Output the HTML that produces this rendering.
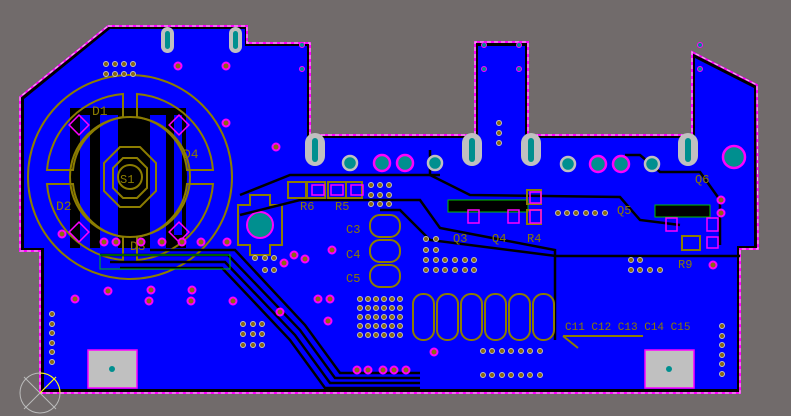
<!DOCTYPE html>
<html><head><meta charset="utf-8"><style>
html,body{margin:0;padding:0;background:#716b6b;}
svg{display:block;}
text{font-family:"Liberation Mono",monospace;fill:#8c7d00;}
</style></head><body>
<svg width="791" height="416" viewBox="0 0 791 416" xmlns="http://www.w3.org/2000/svg">
<rect width="791" height="416" fill="#716b6b"/>
<!-- board -->
<path d="M108,26 L247,26 L247,43 L310,43 L310,135 L475,135 L475,42 L528,42 L528,135 L692,135 L692,52 L757,85 L758,249 L740,249 L740,393 L40,393 L40,251 L20,251 L20,97 Z" fill="#000" stroke="#ff00ff" stroke-width="2"/>
<path d="M108,26 L247,26 L247,43 L310,43 L310,135 L475,135 L475,42 L528,42 L528,135 L692,135 L692,52 L757,85 L758,249 L740,249 L740,393 L40,393 L40,251 L20,251 L20,97 Z" fill="none" stroke="#ddd" stroke-width="1" stroke-dasharray="4,3"/>
<path d="M110,29 L245,29 L245,46 L307,46 L307,138 L478,138 L478,46 L525,46 L525,138 L695,138 L695,58 L754,88 L754,246 L737,246 L737,389 L44,389 L44,248 L24,248 L24,99 Z" fill="#0000ff"/>
<!-- black area at left component -->
<rect x="70" y="108" width="116" height="140" fill="#000"/>
<circle cx="130" cy="177" r="57" fill="#000"/>
<rect x="100" y="115" width="18" height="135" fill="#0000ff"/>
<rect x="150" y="115" width="16" height="135" fill="#0000ff"/>
<rect x="80" y="115" width="10" height="135" fill="#0000ff"/>
<rect x="174" y="115" width="8" height="120" fill="#0000ff"/>
<!-- circles olive -->
<g fill="none" stroke="#8c7d00" stroke-width="2">
<circle cx="130" cy="177" r="102"/>
<circle cx="130" cy="177" r="60"/>
<path d="M47,170 A83,83 0 0 1 123,94 L123,117 A60,60 0 0 0 73,170 Z"/>
<path d="M137,94 A83,83 0 0 1 213,170 L187,170 A60,60 0 0 0 137,117 Z"/>
<path d="M47,184 A83,83 0 0 0 123,260 L123,237 A60,60 0 0 1 73,184 Z"/>
<path d="M137,260 A83,83 0 0 0 213,184 L187,184 A60,60 0 0 1 137,237 Z"/>
<polygon points="120,147 140,147 156,163 156,191 140,207 120,207 104,191 104,163"/>
<polygon points="123,158 137,158 147,168 147,188 137,198 123,198 113,188 113,168"/>
<circle cx="130" cy="177" r="12"/>
<path d="M238,205 L250,205 L250,195 L270,195 L270,205 L282,205 L282,245 L270,245 L270,255 L250,255 L250,245 L238,245 Z" transform="translate(0,-0)"/>
</g>
<g fill="none" stroke="#ff00ff" stroke-width="1.5">
<rect x="72" y="118" width="14" height="14" transform="rotate(45 79 125)"/>
<rect x="172" y="118" width="14" height="14" transform="rotate(45 179 125)"/>
<rect x="72" y="225" width="14" height="14" transform="rotate(45 79 232)"/>
<rect x="172" y="225" width="14" height="14" transform="rotate(45 179 232)"/>
</g>
<text x="92" y="115" font-size="13">D1</text>
<text x="183" y="158" font-size="13">D4</text>
<text x="56" y="210" font-size="13">D2</text>
<text x="130" y="250" font-size="13">D3</text>
<text x="120" y="183" font-size="12">S1</text>
<!-- mid component -->
<circle cx="260" cy="225" r="13" fill="#008f8f" stroke="#ff00ff" stroke-width="2"/>
<!-- traces diagonal bundle -->
<g fill="none" stroke="#000" stroke-width="2.5">
<path d="M100,255 L228,255 L300,330 L335,378 L420,378"/>
<path d="M110,262 L225,262 L295,335 L330,383 L420,383"/>
<path d="M120,268 L222,268 L290,340 L325,388 L420,388"/>
<path d="M150,250 L235,250 L305,325 L340,373 L420,373"/>
<path d="M240,215 L300,200 L420,200 L440,228 L555,250 L555,340"/>
<path d="M430,150 L430,175 L470,195 L620,197 L640,220 L680,225"/>
<path d="M625,155 L640,155 L660,172 L700,172 L720,200 L720,245"/>
<path d="M380,210 L400,210 L430,240 L556,256 L740,256"/>
<path d="M240,195 L290,175 L440,175"/>
</g>
<!-- green hatched areas -->
<g fill="#000" stroke="#00c000" stroke-width="1">
<rect x="448" y="200" width="80" height="12"/>
<rect x="655" y="205" width="55" height="12"/>
<rect x="100" y="255" width="130" height="14" fill="none"/>
</g>
<!-- slotted pads -->
<g>
<rect x="161" y="27" width="13" height="26" rx="6.5" fill="#c0c0c0"/><rect x="165" y="31" width="5" height="18" rx="2.5" fill="#008f8f"/>
<rect x="229" y="27" width="13" height="26" rx="6.5" fill="#c0c0c0"/><rect x="233" y="31" width="5" height="18" rx="2.5" fill="#008f8f"/>
<rect x="305" y="133" width="20" height="33" rx="10" fill="#c0c0c0"/><rect x="312" y="138" width="6" height="24" rx="3" fill="#008f8f"/>
<rect x="462" y="133" width="20" height="33" rx="10" fill="#c0c0c0"/><rect x="469" y="138" width="6" height="24" rx="3" fill="#008f8f"/>
<rect x="521" y="133" width="20" height="33" rx="10" fill="#c0c0c0"/><rect x="528" y="138" width="6" height="24" rx="3" fill="#008f8f"/>
<rect x="678" y="133" width="20" height="33" rx="10" fill="#c0c0c0"/><rect x="685" y="138" width="6" height="24" rx="3" fill="#008f8f"/>
</g>
<g stroke-width="2.5">
<circle cx="350" cy="163" r="7" fill="#008f8f" stroke="#c0c0c0"/>
<circle cx="382" cy="163" r="8" fill="#008f8f" stroke="#ff00ff"/>
<circle cx="405" cy="163" r="8" fill="#008f8f" stroke="#ff00ff"/>
<circle cx="435" cy="163" r="7" fill="#008f8f" stroke="#c0c0c0"/>
<circle cx="568" cy="164" r="7" fill="#008f8f" stroke="#c0c0c0"/>
<circle cx="598" cy="164" r="8" fill="#008f8f" stroke="#ff00ff"/>
<circle cx="621" cy="164" r="8" fill="#008f8f" stroke="#ff00ff"/>
<circle cx="652" cy="164" r="7" fill="#008f8f" stroke="#c0c0c0"/>
<circle cx="734" cy="157" r="11" fill="#008f8f" stroke="#ff00ff"/>
</g>
<!-- mounting pads -->
<rect x="88" y="350" width="49" height="38" fill="#c0c0c0" stroke="#ff00ff" stroke-width="1.5"/><circle cx="112" cy="369" r="3" fill="#008f8f"/>
<rect x="645" y="350" width="49" height="38" fill="#c0c0c0" stroke="#ff00ff" stroke-width="1.5"/><circle cx="669" cy="369" r="3" fill="#008f8f"/>
<!-- caps row -->
<g fill="none" stroke="#8c7d00" stroke-width="2">
<rect x="413" y="294" width="21" height="46" rx="10"/><rect x="437" y="294" width="21" height="46" rx="10"/>
<rect x="461" y="294" width="21" height="46" rx="10"/><rect x="485" y="294" width="21" height="46" rx="10"/>
<rect x="509" y="294" width="21" height="46" rx="10"/><rect x="533" y="294" width="21" height="46" rx="10"/>
<rect x="370" y="215" width="30" height="22" rx="10"/><rect x="370" y="240" width="30" height="22" rx="10"/><rect x="370" y="265" width="30" height="22" rx="10"/>
<path d="M563,336 L643,336 M563,336 L578,348"/>
<rect x="288" y="182" width="18" height="16"/><rect x="307" y="182" width="18" height="16"/><rect x="328" y="182" width="18" height="16"/><rect x="346" y="182" width="16" height="16"/>
<rect x="527" y="190" width="14" height="14"/><rect x="527" y="210" width="14" height="14"/>
<rect x="682" y="236" width="18" height="14"/>
</g>
<g font-size="12">
<text x="300" y="210">R6</text><text x="335" y="210">R5</text>
<text x="346" y="233">C3</text><text x="346" y="258">C4</text><text x="346" y="282">C5</text>
<text x="453" y="242">Q3</text><text x="492" y="242">Q4</text><text x="527" y="242">R4</text>
<text x="617" y="214">Q5</text><text x="695" y="183">Q6</text><text x="678" y="268">R9</text>
<text x="565" y="330" font-size="11">C11 C12 C13 C14 C15</text>
</g>
<!-- magenta pads for transistors -->
<g fill="none" stroke="#ff00ff" stroke-width="1.5">
<rect x="468" y="210" width="11" height="13"/><rect x="508" y="210" width="11" height="13"/><rect x="530" y="210" width="11" height="13"/><rect x="530" y="192" width="11" height="11"/>
<rect x="666" y="218" width="11" height="13"/><rect x="707" y="218" width="11" height="13"/><rect x="707" y="237" width="11" height="11"/>
<rect x="312" y="185" width="12" height="10"/><rect x="331" y="185" width="12" height="10"/><rect x="351" y="185" width="12" height="10"/>
</g>
<!-- vias magenta -->
<g fill="#8a6a10" stroke="#ff00ff" stroke-width="2">
<circle cx="178" cy="66" r="3.5"/><circle cx="226" cy="66" r="3.5"/><circle cx="226" cy="123" r="3.5"/><circle cx="276" cy="147" r="3.5"/>
<circle cx="62" cy="234" r="3.5"/><circle cx="104" cy="242" r="3.5"/><circle cx="116" cy="242" r="3.5"/><circle cx="141" cy="242" r="3.5"/>
<circle cx="162" cy="242" r="3.5"/><circle cx="182" cy="242" r="3.5"/><circle cx="201" cy="242" r="3.5"/><circle cx="227" cy="242" r="3.5"/>
<circle cx="75" cy="299" r="3.5"/><circle cx="108" cy="291" r="3.5"/><circle cx="151" cy="290" r="3.5"/><circle cx="149" cy="301" r="3.5"/>
<circle cx="192" cy="290" r="3.5"/><circle cx="191" cy="301" r="3.5"/><circle cx="233" cy="301" r="3.5"/><circle cx="280" cy="312" r="3.5"/>
<circle cx="284" cy="263" r="3.5"/><circle cx="294" cy="255" r="3.5"/><circle cx="305" cy="259" r="3.5"/><circle cx="332" cy="250" r="3.5"/>
<circle cx="318" cy="299" r="3.5"/><circle cx="330" cy="299" r="3.5"/><circle cx="328" cy="321" r="3.5"/><circle cx="434" cy="352" r="3.5"/>
<circle cx="357" cy="370" r="3.5"/><circle cx="368" cy="370" r="3.5"/><circle cx="383" cy="370" r="3.5"/><circle cx="394" cy="370" r="3.5"/><circle cx="406" cy="370" r="3.5"/>
<circle cx="713" cy="265" r="3.5"/><circle cx="721" cy="213" r="3.5"/><circle cx="721" cy="200" r="3.5"/>
</g>
<!-- small vias brown -->
<g fill="#8a6a10" stroke="#c0c0c0" stroke-width="1">
<circle cx="106" cy="64" r="2.5"/><circle cx="115" cy="64" r="2.5"/><circle cx="124" cy="64" r="2.5"/><circle cx="133" cy="64" r="2.5"/>
<circle cx="106" cy="74" r="2.5"/><circle cx="115" cy="74" r="2.5"/><circle cx="124" cy="74" r="2.5"/><circle cx="133" cy="74" r="2.5"/>
<circle cx="52" cy="314" r="2.5"/><circle cx="52" cy="324" r="2.5"/><circle cx="52" cy="333" r="2.5"/><circle cx="52" cy="343" r="2.5"/><circle cx="52" cy="352" r="2.5"/><circle cx="52" cy="362" r="2.5"/>
<circle cx="722" cy="326" r="2.5"/><circle cx="722" cy="336" r="2.5"/><circle cx="722" cy="345" r="2.5"/><circle cx="722" cy="355" r="2.5"/><circle cx="722" cy="364" r="2.5"/><circle cx="722" cy="374" r="2.5"/>
<circle cx="243" cy="324" r="2.5"/><circle cx="253" cy="324" r="2.5"/><circle cx="262" cy="324" r="2.5"/><circle cx="243" cy="334" r="2.5"/><circle cx="253" cy="334" r="2.5"/><circle cx="262" cy="334" r="2.5"/><circle cx="243" cy="345" r="2.5"/><circle cx="253" cy="345" r="2.5"/><circle cx="262" cy="345" r="2.5"/>
<circle cx="483" cy="351" r="2.5"/><circle cx="492" cy="351" r="2.5"/><circle cx="502" cy="351" r="2.5"/><circle cx="511" cy="351" r="2.5"/><circle cx="521" cy="351" r="2.5"/><circle cx="530" cy="351" r="2.5"/><circle cx="540" cy="351" r="2.5"/>
<circle cx="483" cy="375" r="2.5"/><circle cx="492" cy="375" r="2.5"/><circle cx="502" cy="375" r="2.5"/><circle cx="511" cy="375" r="2.5"/><circle cx="521" cy="375" r="2.5"/><circle cx="530" cy="375" r="2.5"/><circle cx="540" cy="375" r="2.5"/>
<circle cx="558" cy="213" r="2.5"/><circle cx="567" cy="213" r="2.5"/><circle cx="576" cy="213" r="2.5"/><circle cx="586" cy="213" r="2.5"/><circle cx="595" cy="213" r="2.5"/><circle cx="605" cy="213" r="2.5"/>
<circle cx="631" cy="260" r="2.5"/><circle cx="640" cy="260" r="2.5"/><circle cx="631" cy="270" r="2.5"/><circle cx="640" cy="270" r="2.5"/><circle cx="650" cy="270" r="2.5"/><circle cx="660" cy="270" r="2.5"/>
<circle cx="499" cy="123" r="2.5"/><circle cx="499" cy="133" r="2.5"/><circle cx="499" cy="143" r="2.5"/>
<circle cx="255" cy="258" r="2.5"/><circle cx="265" cy="258" r="2.5"/><circle cx="274" cy="258" r="2.5"/><circle cx="265" cy="270" r="2.5"/><circle cx="274" cy="270" r="2.5"/>
</g>
<g fill="#8a6a10" stroke="#c0c0c0" stroke-width="1">
<circle cx="371" cy="185" r="2.5"/><circle cx="380" cy="185" r="2.5"/><circle cx="389" cy="185" r="2.5"/><circle cx="371" cy="195" r="2.5"/><circle cx="380" cy="195" r="2.5"/><circle cx="389" cy="195" r="2.5"/><circle cx="371" cy="204" r="2.5"/><circle cx="380" cy="204" r="2.5"/><circle cx="389" cy="204" r="2.5"/>
<circle cx="426" cy="239" r="2.5"/><circle cx="436" cy="239" r="2.5"/><circle cx="426" cy="250" r="2.5"/><circle cx="436" cy="250" r="2.5"/><circle cx="426" cy="260" r="2.5"/><circle cx="436" cy="260" r="2.5"/><circle cx="445" cy="260" r="2.5"/><circle cx="455" cy="260" r="2.5"/><circle cx="465" cy="260" r="2.5"/><circle cx="474" cy="260" r="2.5"/>
<circle cx="426" cy="270" r="2.5"/><circle cx="436" cy="270" r="2.5"/><circle cx="445" cy="270" r="2.5"/><circle cx="455" cy="270" r="2.5"/><circle cx="465" cy="270" r="2.5"/><circle cx="474" cy="270" r="2.5"/>
<circle cx="360" cy="299" r="2.5"/><circle cx="368" cy="299" r="2.5"/><circle cx="376" cy="299" r="2.5"/><circle cx="384" cy="299" r="2.5"/><circle cx="392" cy="299" r="2.5"/><circle cx="400" cy="299" r="2.5"/>
<circle cx="360" cy="308" r="2.5"/><circle cx="368" cy="308" r="2.5"/><circle cx="376" cy="308" r="2.5"/><circle cx="384" cy="308" r="2.5"/><circle cx="392" cy="308" r="2.5"/><circle cx="400" cy="308" r="2.5"/>
<circle cx="360" cy="317" r="2.5"/><circle cx="368" cy="317" r="2.5"/><circle cx="376" cy="317" r="2.5"/><circle cx="384" cy="317" r="2.5"/><circle cx="392" cy="317" r="2.5"/><circle cx="400" cy="317" r="2.5"/>
<circle cx="360" cy="326" r="2.5"/><circle cx="368" cy="326" r="2.5"/><circle cx="376" cy="326" r="2.5"/><circle cx="384" cy="326" r="2.5"/><circle cx="392" cy="326" r="2.5"/><circle cx="400" cy="326" r="2.5"/>
<circle cx="360" cy="335" r="2.5"/><circle cx="368" cy="335" r="2.5"/><circle cx="376" cy="335" r="2.5"/><circle cx="384" cy="335" r="2.5"/><circle cx="392" cy="335" r="2.5"/><circle cx="400" cy="335" r="2.5"/>
</g>
<g fill="#008f8f" stroke="#ff00ff" stroke-width="1">
<circle cx="302" cy="45" r="2.5"/><circle cx="302" cy="69" r="2.5"/><circle cx="484" cy="45" r="2.5"/><circle cx="519" cy="45" r="2.5"/><circle cx="484" cy="69" r="2.5"/><circle cx="519" cy="69" r="2.5"/><circle cx="700" cy="45" r="2.5"/><circle cx="700" cy="69" r="2.5"/>
</g>
<!-- origin marker -->
<g fill="none" stroke="#bbb" stroke-width="1">
<circle cx="40" cy="393" r="20"/><path d="M24,377 L56,409 M56,377 L24,409"/>
</g>
<path d="M40,373 A20,20 0 0 1 60,393 M40,393 L56,377" fill="none" stroke="#ffff00" stroke-width="1"/>
</svg>
</body></html>
